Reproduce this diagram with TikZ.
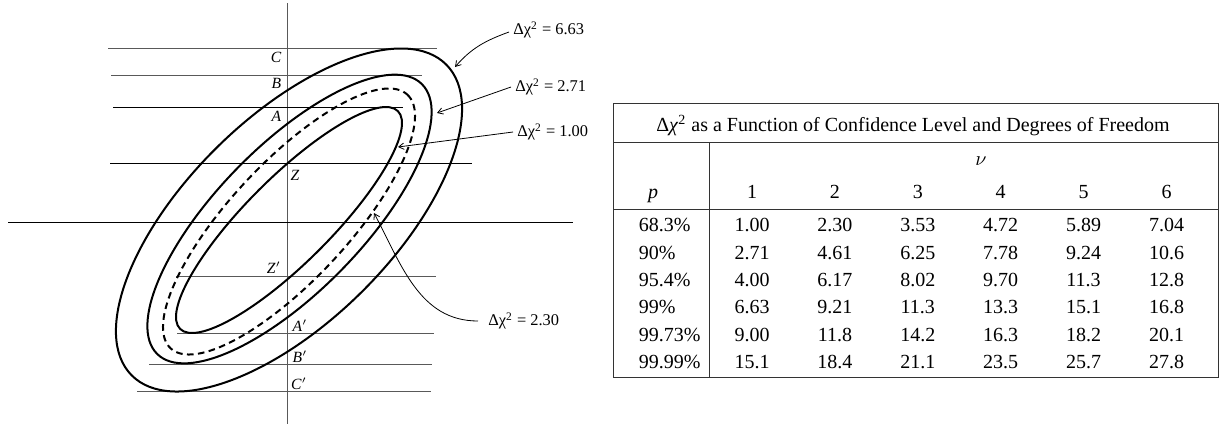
\documentclass[tikz,border=0pt]{standalone}
\usepackage{fontspec}
\setmainfont{Liberation Serif}
\usetikzlibrary{arrows.meta}
\begin{document}
\begin{tikzpicture}[x=0.5pt,y=-0.5pt,
  ell/.style={line width=1pt},
  guide/.style={line width=0.5pt, black!65},
  axisline/.style={line width=0.55pt, black},
  lbl/.style={font=\fontsize{7.8}{9}\selectfont\itshape, inner sep=0pt},
  chi/.style={font=\fontsize{8.2}{10}\selectfont, inner sep=2pt, anchor=west},
  ptr/.style={line width=0.4pt, -{Straight Barb[length=2.6pt,width=3.2pt]}},
  cell/.style={font=\fontsize{10}{12}\selectfont, inner sep=0pt, anchor=base},
  pcell/.style={font=\fontsize{10}{12}\selectfont, inner sep=0pt, anchor=base west},
  tbl/.style={line width=0.6pt, black!80}]
\useasboundingbox (0,0) rectangle (1220,424);
% axes and guide lines
\draw[guide] (287,3) -- (287,424);
\draw[guide] (108,48.3) -- (437,48.3);
\draw[guide] (111,75) -- (422,75);
\draw[axisline] (113,107.3) -- (403,107.3);
\draw[axisline] (110,163.3) -- (472,163.3);
\draw[axisline] (8,222.3) -- (573,222.3);
\draw[guide] (176,276) -- (436,276);
\draw[guide] (177,333.3) -- (434,333.3);
\draw[guide] (149,364) -- (432,364);
\draw[guide] (137,391) -- (431,391);
% ellipses
\draw[ell, rotate around={44.6:(289,220)}] (289,220) ellipse [x radius=221.1, y radius=102.3];
\draw[ell, rotate around={45.6:(289.5,219)}] (289.5,219) ellipse [x radius=189.0, y radius=72.8];
\draw[ell, dash pattern=on 3.3pt off 2.2pt, rotate around={46.95:(289,221.5)}] (289,221.5) ellipse [x radius=173.5, y radius=58.8];
\draw[ell, rotate around={45:(289,220)}] (289,220) ellipse [x radius=154.0, y radius=42.5];
% point labels
\node[lbl] (lC) at (276,57) {C};
\node[lbl] (lB) at (276.5,83.5) {B};
\node[lbl] (lA) at (276.5,116) {A};
\node[lbl] (lZ) at (295,175.5) {Z};
\node[lbl] (lZp) at (274,267.5) {Z$'$};
\node[lbl] (lAp) at (300,326) {A$'$};
\node[lbl] (lBp) at (300,356.5) {B$'$};
\node[lbl] (lCp) at (299,383.5) {C$'$};
% chi labels
\node[chi] (l663) at (509,30) {Δχ\textsuperscript{2} = 6.63};
\node[chi] (l271) at (511,87) {Δχ\textsuperscript{2} = 2.71};
\node[chi] (l100) at (513,132) {Δχ\textsuperscript{2} = 1.00};
\node[chi] (l230) at (484,321) {Δχ\textsuperscript{2} = 2.30};
\coordinate (t663) at (455,67);
\coordinate (t271) at (437,113);
\coordinate (t100) at (398,147);
\coordinate (t230) at (374,213);
\draw[ptr] ([yshift=-1pt]l663.west) to[out=200,in=49] (t663);
\draw[ptr] (l271.west) -- (t271);
\draw[ptr] (l100.west) -- (t100);
\draw[ptr] ([xshift=-3pt]l230.west) to[out=180,in=-62] (t230);
% table
\draw[tbl] (613.3,103.3) rectangle (1218.6,377.3);
\draw[tbl] (613.3,142.3) -- (1218.6,142.3);
\draw[tbl] (613.3,209.3) -- (1218.6,209.3);
\draw[tbl] (709.5,142.3) -- (709.5,377.3);
\node[cell] (title) at (913,131.7) {Δ\textit{χ}\textsuperscript{2} as a Function of Confidence Level and Degrees of Freedom};
\node[cell] (nu) at (981,165) {$\nu$};
\node[cell] (hp) at (653,198.3) {\textit{p}};
\foreach \c/\x in {1/752,2/834.9,3/917.8,4/1000.7,5/1083.6,6/1166.5}
  \node[cell] (h\c) at (\x,198.3) {\c};
\foreach \r/\y/\p/\a/\b/\cc/\d/\e/\f in {
  1/231.8/68.3\%/1.00/2.30/3.53/4.72/5.89/7.04,
  2/259.1/90\%/2.71/4.61/6.25/7.78/9.24/10.6,
  3/286.4/95.4\%/4.00/6.17/8.02/9.70/11.3/12.8,
  4/313.7/99\%/6.63/9.21/11.3/13.3/15.1/16.8,
  5/341/99.73\%/9.00/11.8/14.2/16.3/18.2/20.1,
  6/368.3/99.99\%/15.1/18.4/21.1/23.5/25.7/27.8}{
  \node[pcell] (p\r) at (638.5,\y) {\p};
  \node[cell] (c\r a) at (752,\y) {\a};
  \node[cell] (c\r b) at (834.9,\y) {\b};
  \node[cell] (c\r c) at (917.8,\y) {\cc};
  \node[cell] (c\r d) at (1000.7,\y) {\d};
  \node[cell] (c\r e) at (1083.6,\y) {\e};
  \node[cell] (c\r f) at (1166.5,\y) {\f};
}
\end{tikzpicture}
\end{document}
